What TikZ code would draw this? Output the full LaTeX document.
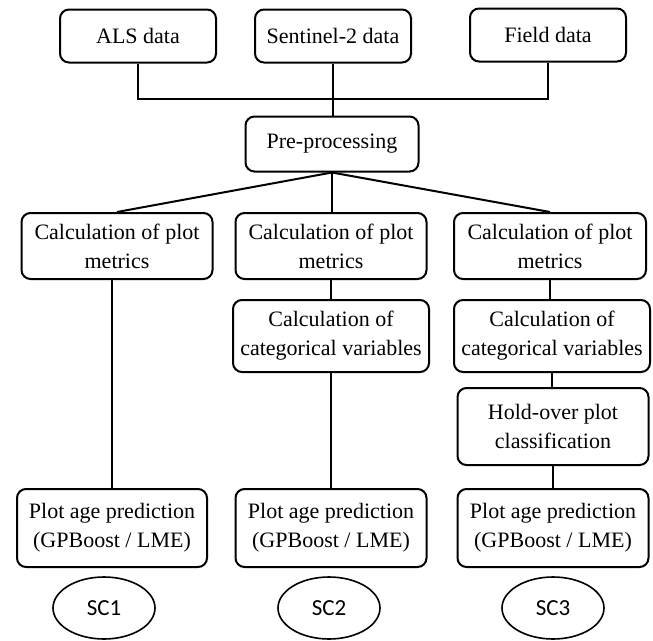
\documentclass[tikz,border=0pt]{standalone}
\usepackage{fontspec}
\newfontfamily\serf{LiberationSerif-Regular.ttf}
\newfontfamily\scfont{Carlito}
\usetikzlibrary{shapes.geometric}
\tikzset{
  box/.style={draw, line width=2pt, rounded corners=9pt, align=center, inner sep=0pt,
    font=\serf\fontsize{22}{29}\selectfont},
  conn/.style={line width=2pt},
  sc/.style={draw, ellipse, line width=1.6pt, minimum width=102pt, minimum height=62pt, inner sep=0pt,
    font=\scfont\fontsize{23}{28}\selectfont}
}
\begin{document}
\begin{tikzpicture}[x=1pt,y=-1pt]
\useasboundingbox (0,0) rectangle (653,640);
\node[box, minimum width=156pt, minimum height=53pt] (als) at (138,36) {ALS data};
\node[box, minimum width=156pt, minimum height=53pt] (sen) at (333,36) {Sentinel-2 data};
\node[box, minimum width=156pt, minimum height=53pt] (fld) at (548,35) {Field data};
\node[box, minimum width=173pt, minimum height=55pt] (pre) at (332,144) {Pre-processing};
\node[box, minimum width=191pt, minimum height=66pt] (c1) at (117,246) {Calculation of plot\\metrics};
\node[box, minimum width=191pt, minimum height=66pt] (c2) at (331,246) {Calculation of plot\\metrics};
\node[box, minimum width=192pt, minimum height=66pt] (c3) at (550,246) {Calculation of plot\\metrics};
\node[box, minimum width=196pt, minimum height=72pt] (k2) at (331,336) {Calculation of\\categorical variables};
\node[box, minimum width=196pt, minimum height=72pt] (k3) at (552,336) {Calculation of\\categorical variables};
\node[box, minimum width=191pt, minimum height=77pt] (h3) at (553,426.5) {Hold-over plot\\classification};
\node[box, minimum width=190pt, minimum height=78pt] (p1) at (112,528) {Plot age prediction\\(GPBoost / LME)};
\node[box, minimum width=191pt, minimum height=78pt] (p2) at (331,528) {Plot age prediction\\(GPBoost / LME)};
\node[box, minimum width=191pt, minimum height=78pt] (p3) at (553,528) {Plot age prediction\\(GPBoost / LME)};
\node[sc] (s1) at (104,608) {SC1};
\node[sc] (s2) at (329,608) {SC2};
\node[sc] (s3) at (553,608) {SC3};
\coordinate (bus) at (332,99);
\draw[conn] (als.south) -- (als.south |- bus) -- (fld.south |- bus) -- (fld.south);
\draw[conn] (sen.south) -- (sen.south |- pre.north);
\draw[conn] (pre.south) -- (c1.north);
\draw[conn] (pre.south) -- (pre.south |- c2.north);
\draw[conn] (pre.south) -- (c3.north);
\draw[conn] (p1.north) -- (p1.north |- c1.south);
\draw[conn] (c2.south) -- (c2.south |- k2.north);
\draw[conn] (p2.north) -- (p2.north |- k2.south);
\draw[conn] (c3.south) -- (c3.south |- k3.north);
\draw[conn] (k3.south) -- (k3.south |- h3.north);
\draw[conn] (h3.south) -- (h3.south |- p3.north);
\end{tikzpicture}
\end{document}
